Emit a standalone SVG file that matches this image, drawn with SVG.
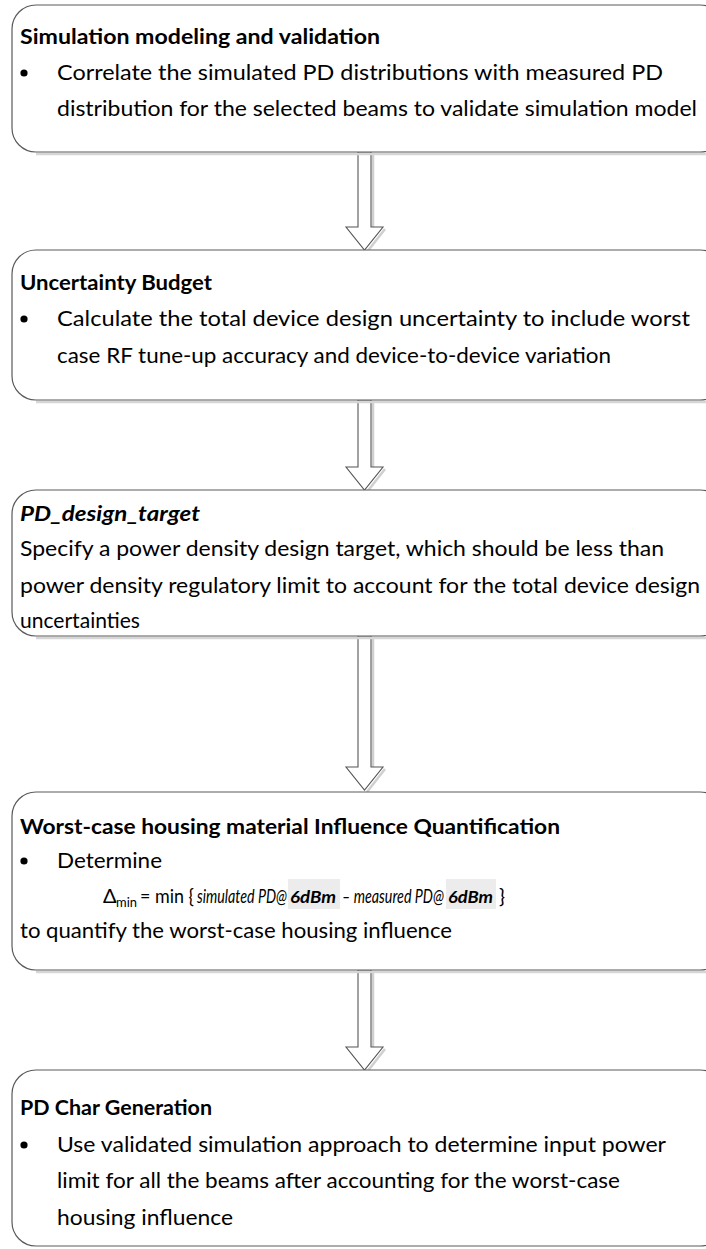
<svg xmlns="http://www.w3.org/2000/svg" width="706" height="1249" viewBox="0 0 706 1249">
<style>
.box{fill:#ffffff;stroke:#5a5a5a;stroke-width:1.2}
.sh{fill:none;stroke:#d6d6d6;stroke-width:2.5}
.t{font-family:Lato,"Open Sans","Liberation Sans",sans-serif;font-size:21px;fill:#000}
.e{font-family:Lato,"Open Sans","Liberation Sans",sans-serif;font-size:20px;fill:#000}
.b{font-weight:bold}
.i{font-style:italic}
.arr{fill:#ffffff;stroke:#555555;stroke-width:1.1}
.ash{fill:none;stroke:#d0d0d0;stroke-width:2.5}
.hl{fill:#ececec}
</style>
<rect width="706" height="1249" fill="#ffffff"/>

<g id="connectors">
  <g id="arrow1">
    <path class="ash" d="M373,154 L373,229 M385,229 L367,252"/>
    <path class="arr" d="M358,152 L371,152 L371,227 L383,227 L364.5,250 L346,227 L358,227 Z"/>
  </g>
  <g id="arrow2">
    <path class="ash" d="M373,402 L373,469 M385,469 L367,492"/>
    <path class="arr" d="M358,400 L371,400 L371,467 L383,467 L364.5,490 L346,467 L358,467 Z"/>
  </g>
  <g id="arrow3">
    <path class="ash" d="M373,638 L373,769 M385,769 L367,792"/>
    <path class="arr" d="M358,636 L371,636 L371,767 L383,767 L364.5,790 L346,767 L358,767 Z"/>
  </g>
  <g id="arrow4">
    <path class="ash" d="M373,972 L373,1049 M385,1049 L367,1072"/>
    <path class="arr" d="M358,970 L371,970 L371,1047 L383,1047 L364.5,1070 L346,1047 L358,1047 Z"/>
  </g>
</g>

<g id="node1">
  <path class="sh" d="M36,154 L712,154"/>
  <rect class="box" x="12" y="5" width="712" height="147" rx="24" ry="24"/>
  <text class="t b" x="20" y="44" textLength="360" lengthAdjust="spacingAndGlyphs">Simulation modeling and validation</text>
  <circle cx="24" cy="73" r="3.6" fill="#000"/>
  <text class="t" x="57" y="80" textLength="606" lengthAdjust="spacingAndGlyphs">Correlate the simulated PD distributions with measured PD</text>
  <text class="t" x="57" y="116" textLength="640" lengthAdjust="spacingAndGlyphs">distribution for the selected beams to validate simulation model</text>
</g>

<g id="node2">
  <path class="sh" d="M36,402 L712,402"/>
  <rect class="box" x="12" y="250" width="712" height="150" rx="24" ry="24"/>
  <text class="t b" x="20" y="290" textLength="192" lengthAdjust="spacingAndGlyphs">Uncertainty Budget</text>
  <circle cx="24" cy="319" r="3.6" fill="#000"/>
  <text class="t" x="57" y="326" textLength="633" lengthAdjust="spacingAndGlyphs">Calculate the total device design uncertainty to include worst</text>
  <text class="t" x="57" y="363" textLength="554" lengthAdjust="spacingAndGlyphs">case RF tune-up accuracy and device-to-device variation</text>
</g>

<g id="node3">
  <path class="sh" d="M36,638 L712,638"/>
  <rect class="box" x="12" y="490" width="712" height="146" rx="24" ry="24"/>
  <text class="t b i" x="20" y="521" textLength="180" lengthAdjust="spacingAndGlyphs">PD_design_target</text>
  <text class="t" x="20" y="556" textLength="644" lengthAdjust="spacingAndGlyphs">Specify a power density design target, which should be less than</text>
  <text class="t" x="20" y="593" textLength="680" lengthAdjust="spacingAndGlyphs">power density regulatory limit to account for the total device design</text>
  <text class="t" x="20" y="628" textLength="120" lengthAdjust="spacingAndGlyphs">uncertainties</text>
</g>

<g id="node4">
  <path class="sh" d="M36,972 L712,972"/>
  <rect class="box" x="12" y="792" width="712" height="178" rx="24" ry="24"/>
  <text class="t b" x="20" y="834" textLength="540" lengthAdjust="spacingAndGlyphs">Worst-case housing material Influence Quantification</text>
  <circle cx="24" cy="861" r="3.6" fill="#000"/>
  <text class="t" x="57" y="868" textLength="105" lengthAdjust="spacingAndGlyphs">Determine</text>
  <rect class="hl" x="288" y="879" width="52" height="30"/>
  <rect class="hl" x="446" y="879" width="50" height="30"/>
  <text class="e" x="103" y="903">Δ</text>
  <text class="e" x="116" y="907" style="font-size:13px" textLength="21" lengthAdjust="spacingAndGlyphs">min</text>
  <text class="e" x="140" y="903" textLength="54" lengthAdjust="spacingAndGlyphs">= min {</text>
  <text class="e i" x="197" y="903" textLength="90" lengthAdjust="spacingAndGlyphs">simulated PD@</text>
  <text class="e b i" x="290" y="903" style="font-size:17px" textLength="46" lengthAdjust="spacingAndGlyphs">6dBm</text>
  <text class="e i" x="342" y="903" textLength="102" lengthAdjust="spacingAndGlyphs">– measured PD@</text>
  <text class="e b i" x="448" y="903" style="font-size:17px" textLength="45" lengthAdjust="spacingAndGlyphs">6dBm</text>
  <text class="e" x="499" y="903">}</text>
  <text class="t" x="20" y="938" textLength="432" lengthAdjust="spacingAndGlyphs">to quantify the worst-case housing influence</text>
</g>

<g id="node5">
  <rect class="box" x="12" y="1070" width="712" height="176" rx="24" ry="24"/>
  <text class="t b" x="20" y="1115" textLength="192" lengthAdjust="spacingAndGlyphs">PD Char Generation</text>
  <circle cx="24" cy="1145" r="3.6" fill="#000"/>
  <text class="t" x="57" y="1152" textLength="609" lengthAdjust="spacingAndGlyphs">Use validated simulation approach to determine input power</text>
  <text class="t" x="57" y="1188" textLength="563" lengthAdjust="spacingAndGlyphs">limit for all the beams after accounting for the worst-case</text>
  <text class="t" x="57" y="1225" textLength="176" lengthAdjust="spacingAndGlyphs">housing influence</text>
</g>
</svg>
